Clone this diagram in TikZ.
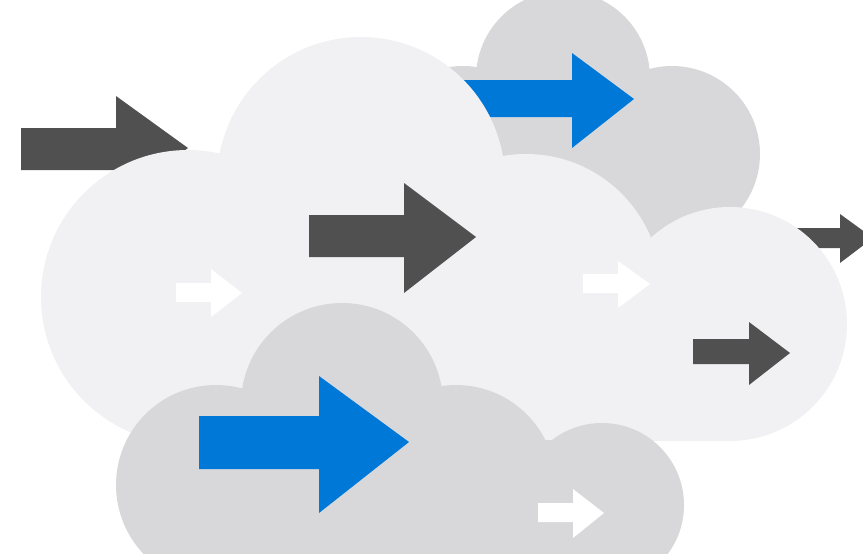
\documentclass[tikz,border=0pt]{standalone}
\definecolor{darkgrey}{RGB}{80,80,80}
\definecolor{blueish}{RGB}{0,120,215}
\definecolor{lightcloud}{RGB}{241,241,243}
\definecolor{greycloud}{RGB}{216,216,218}
\tikzset{
  darkarrow/.style={fill=darkgrey},
  bluearrow/.style={fill=blueish},
  whitearrow/.style={fill=white},
  frontcloud/.style={fill=lightcloud},
  backcloud/.style={fill=greycloud}
}
% arrow: #1 style, #2 left x, #3 body top, #4 body bottom, #5 head x, #6 head top, #7 head bottom, #8 tip x, #9 tip y
\newcommand{\flatarrow}[9]{\fill[#1] (#2,#3) -- (#5,#3) -- (#5,#6) -- (#8,#9) -- (#5,#7) -- (#5,#4) -- (#2,#4) -- cycle;}
\begin{document}
\begin{tikzpicture}[x=1pt,y=-1pt]
\useasboundingbox (0,0) rectangle (863,554);
\clip (0,0) rectangle (863,554);
% back grey cloud (top right)
\fill[backcloud] (563,78) circle[radius=87];
\fill[backcloud] (672,154) circle[radius=88];
\fill[backcloud] (463,154) circle[radius=88];
\fill[backcloud] (463,100) rectangle (672,242);
% blue arrow on back cloud
\flatarrow{bluearrow}{440}{80}{117}{572}{53}{148}{634}{99}
% dark arrow top left
\flatarrow{darkarrow}{21}{128}{170}{116}{96}{200}{188}{148}
% dark arrow right edge
\flatarrow{darkarrow}{770}{228}{248}{840}{214}{263}{873}{238}
% front light cloud
\fill[frontcloud] (361,181) circle[radius=144];
\fill[frontcloud] (188,297) circle[radius=147];
\fill[frontcloud] (526,289) circle[radius=135];
\fill[frontcloud] (730,324) circle[radius=117];
\fill[frontcloud] (188,297) rectangle (730,441);
% arrows on front cloud
\flatarrow{darkarrow}{309}{215}{257}{404}{183}{293}{476}{237}
\flatarrow{whitearrow}{176}{283}{302}{211}{269}{317}{242}{293}
\flatarrow{whitearrow}{583}{274}{293}{618}{261}{308}{650}{284}
\flatarrow{darkarrow}{693}{339}{364}{749}{322}{385}{790}{353}
% bottom grey cloud
\fill[backcloud] (342,404) circle[radius=101];
\fill[backcloud] (216,485) circle[radius=100];
\fill[backcloud] (456,485) circle[radius=100];
\fill[backcloud] (602,505) circle[radius=82];
\fill[backcloud] (216,440) rectangle (602,600);
% arrows on bottom cloud
\flatarrow{bluearrow}{199}{416}{469}{319}{376}{513}{409}{442}
\flatarrow{whitearrow}{538}{503}{522}{573}{489}{538}{604}{513}
\end{tikzpicture}
\end{document}
